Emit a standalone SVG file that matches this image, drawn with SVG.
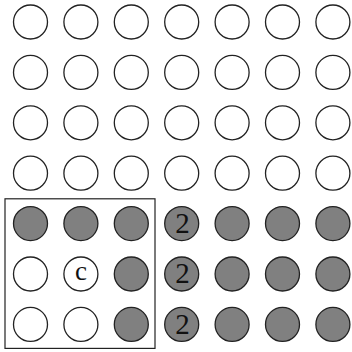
<svg xmlns="http://www.w3.org/2000/svg" width="352" height="352" viewBox="0 0 352 352">
<style>
.w{fill:#fff;stroke:#222;stroke-width:1.3}
.g{fill:#808080;stroke:#222;stroke-width:1.3}
text{font-family:'Liberation Serif','Times New Roman','DejaVu Serif',serif;text-anchor:middle;fill:#111}
</style>
<rect width="352" height="352" fill="#fff"/>
<g id="connectors"/>
<g id="row1">
<circle class="w" cx="30.5" cy="22" r="17"/><circle class="w" cx="80.9" cy="22" r="17"/><circle class="w" cx="131.3" cy="22" r="17"/><circle class="w" cx="181.7" cy="22" r="17"/><circle class="w" cx="232.1" cy="22" r="17"/><circle class="w" cx="282.5" cy="22" r="17"/><circle class="w" cx="332.9" cy="22" r="17"/>
</g>
<g id="row2">
<circle class="w" cx="30.5" cy="72.4" r="17"/><circle class="w" cx="80.9" cy="72.4" r="17"/><circle class="w" cx="131.3" cy="72.4" r="17"/><circle class="w" cx="181.7" cy="72.4" r="17"/><circle class="w" cx="232.1" cy="72.4" r="17"/><circle class="w" cx="282.5" cy="72.4" r="17"/><circle class="w" cx="332.9" cy="72.4" r="17"/>
</g>
<g id="row3">
<circle class="w" cx="30.5" cy="122.8" r="17"/><circle class="w" cx="80.9" cy="122.8" r="17"/><circle class="w" cx="131.3" cy="122.8" r="17"/><circle class="w" cx="181.7" cy="122.8" r="17"/><circle class="w" cx="232.1" cy="122.8" r="17"/><circle class="w" cx="282.5" cy="122.8" r="17"/><circle class="w" cx="332.9" cy="122.8" r="17"/>
</g>
<g id="row4">
<circle class="w" cx="30.5" cy="173.2" r="17"/><circle class="w" cx="80.9" cy="173.2" r="17"/><circle class="w" cx="131.3" cy="173.2" r="17"/><circle class="w" cx="181.7" cy="173.2" r="17"/><circle class="w" cx="232.1" cy="173.2" r="17"/><circle class="w" cx="282.5" cy="173.2" r="17"/><circle class="w" cx="332.9" cy="173.2" r="17"/>
</g>
<g id="row5">
<circle class="g" cx="30.5" cy="223.6" r="17"/><circle class="g" cx="80.9" cy="223.6" r="17"/><circle class="g" cx="131.3" cy="223.6" r="17"/><circle class="g" cx="181.7" cy="223.6" r="17"/><circle class="g" cx="232.1" cy="223.6" r="17"/><circle class="g" cx="282.5" cy="223.6" r="17"/><circle class="g" cx="332.9" cy="223.6" r="17"/>
</g>
<g id="row6">
<circle class="w" cx="30.5" cy="274" r="17"/><circle class="w" cx="80.9" cy="274" r="17"/><circle class="g" cx="131.3" cy="274" r="17"/><circle class="g" cx="181.7" cy="274" r="17"/><circle class="g" cx="232.1" cy="274" r="17"/><circle class="g" cx="282.5" cy="274" r="17"/><circle class="g" cx="332.9" cy="274" r="17"/>
</g>
<g id="row7">
<circle class="w" cx="30.5" cy="324.4" r="17"/><circle class="w" cx="80.9" cy="324.4" r="17"/><circle class="g" cx="131.3" cy="324.4" r="17"/><circle class="g" cx="181.7" cy="324.4" r="17"/><circle class="g" cx="232.1" cy="324.4" r="17"/><circle class="g" cx="282.5" cy="324.4" r="17"/><circle class="g" cx="332.9" cy="324.4" r="17"/>
</g>
<g id="labels">
<text x="182.5" y="233" font-size="29">2</text>
<text x="182.5" y="283.4" font-size="29">2</text>
<text x="182.5" y="333.8" font-size="29">2</text>
<text x="80.9" y="279.5" font-size="27">c</text>
</g>
<g id="window">
<rect x="5" y="198.8" width="150" height="149.6" fill="none" stroke="#222" stroke-width="1.2"/>
</g>
</svg>
